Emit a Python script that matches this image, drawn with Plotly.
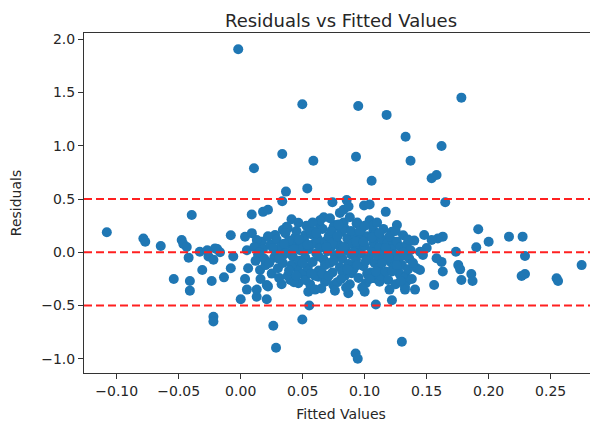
import plotly.graph_objects as go

points = [
    (-0.002, 1.906), (0.0107, 0.79), (0.0335, 0.923), (0.0365, 0.57), (0.0335, 0.48),
    (-0.0395, 0.35), (0.0089, 0.355), (0.018, 0.38), (0.022, 0.40), (0.041, 0.31),
    (0.0497, 1.39), (0.0948, 1.374), (0.1177, 1.29), (0.178, 1.452), (0.133, 1.085),
    (0.162, 0.998), (0.0586, 0.86), (0.093, 0.898), (0.137, 0.86), (0.1056, 0.672),
    (0.154, 0.695), (0.158, 0.726), (0.0537, 0.60), (0.165, 0.47), (0.074, 0.47),
    (0.0855, 0.49), (0.080, 0.37), (0.083, 0.40), (0.087, 0.43), (0.0995, 0.44),
    (0.104, 0.45), (0.117, 0.38), (0.067, 0.33), (0.0263, -0.69), (0.0285, -0.896),
    (-0.022, -0.605), (-0.022, -0.65), (0.0497, -0.63), (0.0927, -0.95), (0.0944, -1.0),
    (0.13, -0.84), (0.0553, -0.50), (0.109, -0.49), (0.122, -0.45), (0.0, -0.44),
    (0.021, -0.44), (0.005, -0.35), (0.0129, -0.417), (0.0129, -0.35), (0.022, -0.32),
    (0.0035, -0.25), (-0.0135, -0.235), (-0.0234, -0.27), (-0.054, -0.25), (-0.041, -0.27),
    (-0.041, -0.36), (-0.031, -0.166), (-0.008, -0.15), (-0.108, 0.188), (-0.0785, 0.13),
    (-0.077, 0.10), (-0.0645, 0.06), (-0.0476, 0.115), (-0.0463, 0.078), (-0.0435, 0.05),
    (-0.042, -0.05), (-0.033, 0.005), (-0.026, -0.04), (-0.022, -0.07), (-0.019, 0.03),
    (-0.0167, 0.0), (-0.008, 0.16), (-0.006, -0.04), (0.0035, 0.146), (0.009, 0.18),
    (0.005, 0.02), (0.006, -0.15), (0.0156, -0.166), (0.015, 0.085), (0.148, 0.162),
    (0.163, 0.147), (0.159, 0.13), (0.1916, 0.216), (0.19, 0.047), (0.2, 0.10),
    (0.2164, 0.147), (0.2274, 0.147), (0.2293, -0.035), (0.2266, -0.222), (0.2293, -0.204),
    (0.2548, -0.244), (0.256, -0.27), (0.275, -0.12), (0.1736, 0.005), (0.1755, -0.12),
    (0.177, -0.16), (0.178, -0.26), (0.186, -0.204), (0.187, -0.27), (0.156, -0.307),
    (0.163, -0.18), (0.162, -0.09), (0.158, -0.056), (0.15, 0.04), (0.147, -0.025),
    (0.1406, -0.35), (0.142, -0.15), (0.1446, -0.166), (0.134, -0.27), (0.1325, -0.35),
    (0.021, -0.307), (0.037, 0.24), (0.034, 0.21), (0.0277, 0.162), (0.017, 0.10),
    (0.013, 0.115), (-0.0207, 0.037), (-0.027, 0.02), (0.0465, 0.278), (0.038, 0.225),
    (0.064, 0.24), (0.076, 0.256), (0.0935, 0.27), (0.06, 0.193), (0.052, 0.162),
    (0.073, 0.162), (0.107, 0.21), (0.0976, 0.162), (0.0868, 0.115), (0.0626, 0.084),
    (0.0438, 0.10), (0.126, 0.256), (0.122, 0.193), (0.111, 0.146), (0.124, 0.10),
    (0.154, 0.115), (0.1, -0.37), (0.0868, -0.385), (0.0747, -0.307), (0.0545, -0.37),
    (0.0465, -0.29), (0.04, -0.26), (0.0895, -0.197), (0.108, -0.244), (0.068, -0.276),
    (0.0626, -0.23), (0.112, -0.276), (0.1325, -0.323), (0.1446, 0.005),
    (0.011, 0.05), (0.014, -0.02), (0.018, 0.03), (0.012, -0.08), (0.020, -0.12),
    (0.024, 0.07), (0.027, -0.05), (0.025, -0.20), (0.029, 0.12), (0.016, -0.25),
    (0.030, -0.15), (0.022, 0.15), (0.028, 0.01), (0.019, -0.06),
    (0.032, 0.05), (0.034, -0.10), (0.036, 0.18), (0.038, -0.22), (0.040, 0.08),
    (0.042, -0.04), (0.044, 0.14), (0.046, -0.16), (0.048, 0.02), (0.033, -0.30),
    (0.035, -0.02), (0.039, 0.11), (0.041, -0.12), (0.043, -0.28), (0.045, 0.20),
    (0.047, -0.08), (0.049, 0.06), (0.037, 0.00), (0.031, -0.24), (0.050, -0.20),
    (0.051, 0.12), (0.052, -0.05), (0.053, 0.25), (0.054, -0.14), (0.055, 0.03),
    (0.056, -0.30), (0.057, 0.17), (0.058, -0.09), (0.059, 0.08), (0.060, -0.22),
    (0.061, -0.01), (0.062, 0.13), (0.063, -0.17), (0.064, 0.04), (0.065, -0.34),
    (0.066, 0.22), (0.067, -0.07), (0.068, 0.10), (0.069, -0.25), (0.070, 0.01),
    (0.052, -0.26), (0.056, 0.21), (0.060, -0.35), (0.064, 0.30), (0.068, -0.12),
    (0.071, 0.15), (0.072, -0.10), (0.073, 0.05), (0.074, -0.19), (0.075, 0.24),
    (0.076, -0.03), (0.077, 0.11), (0.078, -0.28), (0.079, 0.07), (0.080, -0.14),
    (0.081, 0.19), (0.082, -0.06), (0.083, 0.28), (0.084, -0.22), (0.085, 0.02),
    (0.086, 0.13), (0.087, -0.11), (0.088, 0.33), (0.089, -0.02), (0.090, 0.08),
    (0.072, 0.32), (0.076, -0.36), (0.080, 0.00), (0.084, 0.22), (0.088, -0.30),
    (0.074, 0.09), (0.082, -0.18),
    (0.091, -0.16), (0.092, 0.17), (0.093, -0.07), (0.094, 0.04), (0.095, -0.24),
    (0.096, 0.12), (0.097, -0.01), (0.098, 0.23), (0.099, -0.13), (0.100, 0.06),
    (0.101, -0.29), (0.102, 0.15), (0.103, -0.05), (0.104, 0.30), (0.105, -0.19),
    (0.106, 0.02), (0.107, 0.09), (0.108, -0.10), (0.109, 0.18), (0.110, -0.03),
    (0.094, 0.28), (0.098, -0.33), (0.102, -0.20), (0.106, 0.25), (0.093, 0.10),
    (0.111, -0.15), (0.112, 0.05), (0.113, -0.22), (0.114, 0.12), (0.115, -0.06),
    (0.116, 0.00), (0.117, -0.18), (0.118, 0.08), (0.119, -0.26), (0.120, 0.15),
    (0.121, -0.09), (0.122, 0.03), (0.123, -0.14), (0.124, -0.02), (0.125, -0.30),
    (0.126, 0.10), (0.127, -0.07), (0.128, -0.20), (0.129, 0.05), (0.130, -0.12),
    (0.131, 0.16), (0.132, -0.03), (0.133, -0.23), (0.134, 0.07), (0.135, -0.16),
    (0.136, -0.06), (0.137, 0.02), (0.138, -0.25), (0.139, -0.10), (0.140, 0.11),
    (0.115, 0.22), (0.120, -0.35), (0.125, 0.20),
    (0.015, 0.00), (0.023, -0.10), (0.026, 0.04), (0.031, -0.06), (0.035, 0.08),
    (0.039, -0.17), (0.043, 0.03), (0.047, 0.12), (0.050, -0.10), (0.054, 0.07),
    (0.057, -0.20), (0.061, 0.18), (0.063, -0.04), (0.066, -0.20), (0.069, 0.05),
    (0.071, -0.22), (0.073, 0.20), (0.075, -0.08), (0.078, 0.15), (0.081, -0.25),
    (0.083, 0.05), (0.086, -0.16), (0.089, 0.20), (0.091, 0.00), (0.094, -0.12),
    (0.096, 0.20), (0.099, 0.10), (0.101, -0.08), (0.104, -0.25), (0.106, 0.14),
    (0.109, -0.18), (0.112, 0.18), (0.114, -0.10), (0.117, 0.04), (0.119, -0.04),
    (0.122, -0.18), (0.126, -0.12), (0.129, -0.27), (0.131, 0.00), (0.135, 0.12),
    (0.058, 0.28), (0.079, 0.26), (0.100, 0.25), (0.045, -0.22), (0.085, -0.33),
    (0.110, 0.28),
]
fitted_values = [p[0] for p in points]
residuals = [p[1] for p in points]

reference_lines = [0.5, 0.0, -0.5]
x_ticks = [-0.10, -0.05, 0.00, 0.05, 0.10, 0.15, 0.20, 0.25]
y_ticks = [-1.0, -0.5, 0.0, 0.5, 1.0, 1.5, 2.0]

FONT = "DejaVu Sans"
AX = "#333333"
TXT = "#262626"

fig = go.Figure()
fig.add_trace(go.Scatter(
    x=fitted_values, y=residuals, mode="markers",
    marker=dict(color="#1f77b4", size=10, line=dict(width=0)),
    showlegend=False, cliponaxis=False,
))
for v in reference_lines:
    fig.add_hline(y=v, line=dict(color="#ff2020", width=2, dash="8px,4px"))

fig.update_layout(
    template="none",
    width=590, height=419,
    margin=dict(l=76, r=0, t=25, b=54, autoexpand=False),
    paper_bgcolor="white", plot_bgcolor="white",
    font=dict(family=FONT, size=14, color=TXT),
    title=dict(text="Residuals vs Fitted Values", x=0.5, xref="paper", xanchor="center",
               y=1, yref="paper", yanchor="bottom", pad=dict(b=6),
               font=dict(family=FONT, size=18, color=TXT)),
    xaxis=dict(range=[-0.1264, 0.2882], tickvals=x_ticks, tickformat=".2f",
               automargin=False,
               showgrid=False, zeroline=False, showline=True, linecolor=AX,
               linewidth=1, mirror=True, ticks="outside", ticklen=5, tickcolor=AX,
               title=dict(text="Fitted Values", standoff=11, font=dict(size=14))),
    yaxis=dict(range=[-1.133, 2.059], tickvals=y_ticks, tickformat=".1f",
               automargin=False,
               showgrid=False, zeroline=False, showline=True, linecolor=AX,
               linewidth=1, mirror=False, ticks="outside", ticklen=5, tickcolor=AX,
               title=dict(text="Residuals", standoff=16, font=dict(size=14))),
)

fig.write_html("out.html")
